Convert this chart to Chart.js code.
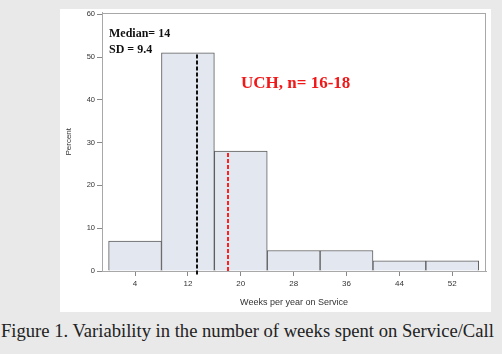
<!DOCTYPE html>
<html>
<head>
<meta charset="utf-8">
<script src="https://cdn.jsdelivr.net/npm/chart.js@4/dist/chart.umd.min.js"></script>
<style>
  body { margin: 0; background: #e9e9e9; width: 502px; height: 354px; overflow: hidden; position: relative; }
  #panel { position: absolute; left: 60px; top: 9px; width: 431px; height: 303px; background: #fff; }
  #panel canvas { position: absolute; left: 0; top: -3px; }
  .note { position: absolute; font-family: "Liberation Serif", serif; font-weight: bold; color: #111; white-space: nowrap; }
  #caption { position: absolute; left: 1px; top: 320px; font-family: "Liberation Serif", serif; font-size: 18.6px; color: #222; white-space: nowrap; }
</style>
</head>
<body>
<div id="panel">
  <canvas id="histChart" width="431" height="306"></canvas>
  <div class="note" style="left:49px; top:17px; font-size:12px;">Median= 14</div>
  <div class="note" style="left:49px; top:33px; font-size:12px;">SD = 9.4</div>
  <div class="note" style="left:181px; top:64px; font-size:17px; color:#f01818;">UCH, n= 16-18</div>
</div>
<div id="caption">Figure 1. Variability in the number of weeks spent on Service/Call</div>
<script>
// histogram data
const binCenters = [4, 12, 20, 28, 36, 44, 52];
const percents = [7, 51, 28, 4.8, 4.8, 2.4, 2.4];
const yTicks = [0, 10, 20, 30, 40, 50, 60];
const medianWeek = 13.3;
const meanWeek = 18;

// frame round the plot + the two dashed reference lines
const extras = {
    id: 'extras',
    afterDatasetsDraw(chart) {
        const c = chart.ctx;
        const a = chart.chartArea;
        const x = chart.scales.x;
        const y = chart.scales.y;
        c.save();
        c.strokeStyle = '#a8a8a8';
        c.lineWidth = 1;
        c.strokeRect(Math.round(a.left) + 0.5, Math.round(a.top) + 0.5, Math.round(a.width) - 1, Math.round(a.height) - 1);

        c.lineWidth = 2;
        c.setLineDash([4, 2]);
        c.strokeStyle = '#111';
        let px = Math.round(x.getPixelForValue(medianWeek));
        c.beginPath();
        c.moveTo(px, y.getPixelForValue(percents[1] - 0.4));
        c.lineTo(px, a.bottom + 5);
        c.stroke();

        c.strokeStyle = '#ff2020';
        px = Math.round(x.getPixelForValue(meanWeek));
        c.beginPath();
        c.moveTo(px, y.getPixelForValue(percents[2] - 0.4));
        c.lineTo(px, a.bottom);
        c.stroke();
        c.restore();
    }
};

const ctx = document.getElementById('histChart').getContext('2d');
const histChart = new Chart(ctx, {
    type: 'bar',
    data: {
        datasets: [{
            data: binCenters.map((w, i) => ({ x: w, y: percents[i] })),
            backgroundColor: '#e3e7f0',
            borderColor: '#5c5c5c',
            borderWidth: 1,
            barPercentage: 1,
            categoryPercentage: 1
        }]
    },
    options: {
        responsive: false,
        animation: false,
        layout: { padding: { top: 0, right: 5, left: 0, bottom: 0 } },
        plugins: { legend: { display: false }, tooltip: { enabled: false } },
        scales: {
            x: {
                type: 'linear',
                offset: false,
                min: -1,
                max: 57.1,
                afterBuildTicks: s => { s.ticks = binCenters.map(v => ({ value: v })); },
                afterFit: s => { s.height = 41; },
                grid: { drawOnChartArea: false, tickLength: 5, color: '#888', offset: false },
                border: { color: '#a8a8a8' },
                ticks: { font: { family: 'Arial', size: 8 }, color: '#333', padding: 3, maxRotation: 0 },
                title: { display: true, text: 'Weeks per year on Service', font: { family: 'Arial', size: 9 }, color: '#333', padding: { top: 3 } }
            },
            y: {
                min: 0,
                max: 60.4,
                afterBuildTicks: s => { s.ticks = yTicks.map(v => ({ value: v })); },
                afterFit: s => { s.width = 42; },
                grid: { drawOnChartArea: false, tickLength: 5, color: '#888' },
                border: { color: '#a8a8a8' },
                ticks: { font: { family: 'Arial', size: 7.5 }, color: '#333', padding: 2 },
                title: { display: true, text: 'Percent', font: { family: 'Arial', size: 8 }, color: '#333', padding: { bottom: 0 } }
            }
        }
    },
    plugins: [extras]
});
</script>
</body>
</html>
